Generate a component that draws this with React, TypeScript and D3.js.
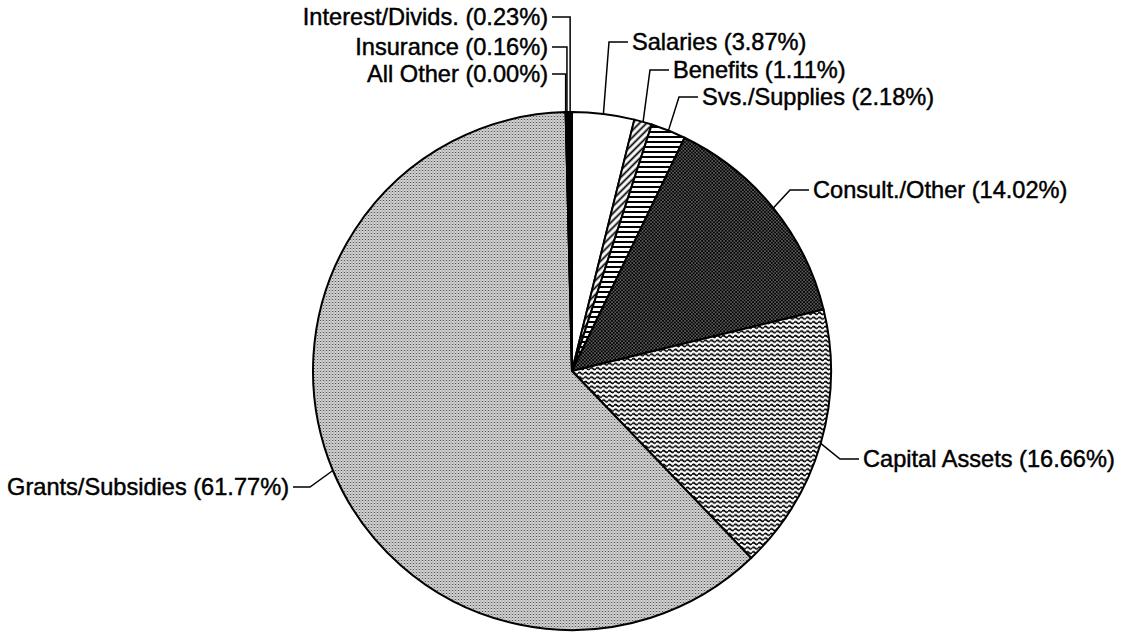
import React from 'react';
import * as d3 from 'd3';

// expense categories, clockwise from 12 o'clock
const categories = [
  'Salaries',
  'Benefits',
  'Svs./Supplies',
  'Consult./Other',
  'Capital Assets',
  'Grants/Subsidies',
  'All Other',
  'Insurance',
  'Interest/Divids.',
];
const shares = [3.87, 1.11, 2.18, 14.02, 16.66, 61.77, 0.0, 0.16, 0.23];
const fills = [
  '#ffffff',
  'url(#diag)',
  'url(#hlines)',
  'url(#dots)',
  'url(#waves)',
  'url(#stipple)',
  '#000000',
  '#000000',
  '#000000',
];

// label placement (text edge x, text middle y, side, straight-up leader)
const labelX = [632, 673, 702, 813, 863, 289, 548, 548, 548];
const labelY = [42, 70, 97, 190, 459, 487, 74, 47, 17];
const labelSide = ['right', 'right', 'right', 'right', 'right', 'left', 'left', 'left', 'left'];
const labelVertical = [false, false, false, false, false, false, true, true, true];

const W = 1122;
const H = 632;
const cx = 572;
const cy = 371;
const radius = 259;

export default function App() {
  const pie = d3
    .pie<number>()
    .sort(null)
    .value((d) => d)
    .startAngle(0)
    .endAngle(2 * Math.PI);
  const arcs = pie(shares);
  const arcGen = d3.arc<d3.PieArcDatum<number>>().innerRadius(0).outerRadius(radius);

  const leaders = arcs.map((a, i) => {
    const mid = (a.startAngle + a.endAngle) / 2;
    const px = cx + radius * Math.sin(mid);
    const py = cy - radius * Math.cos(mid);
    const y = labelY[i];
    const right = labelSide[i] === 'right';
    const tip = right ? labelX[i] - 4 : labelX[i] + 4;
    const elbowX = labelVertical[i] ? px : right ? tip - 19 : tip + 17;
    return d3.line()([
      [px, py],
      [elbowX, y],
      [tip, y],
    ]);
  });

  return (
    <svg
      width={W}
      height={H}
      style={{ position: 'absolute', left: 0, top: 0, background: '#fff' }}
    >
      <defs>
        <pattern id="diag" width="5" height="5" patternUnits="userSpaceOnUse" patternTransform="rotate(-45)">
          <rect width="5" height="5" fill="#fff" />
          <line x1="0" y1="2.5" x2="5" y2="2.5" stroke="#000" strokeWidth="1.8" />
        </pattern>
        <pattern id="hlines" width="6" height="5" patternUnits="userSpaceOnUse">
          <rect width="6" height="5" fill="#fff" />
          <rect y="0" width="6" height="2" fill="#000" />
        </pattern>
        <pattern id="dots" width="3.4" height="3.4" patternUnits="userSpaceOnUse">
          <rect width="3.4" height="3.4" fill="#000" />
          <circle cx="0.85" cy="0.85" r="0.55" fill="#fff" />
          <circle cx="2.55" cy="2.55" r="0.55" fill="#fff" />
        </pattern>
        <pattern id="waves" width="6" height="4.6" patternUnits="userSpaceOnUse">
          <rect width="6" height="4.6" fill="#fff" />
          <path d="M0,2.3 Q1.5,0.5 3,2.3 T6,2.3" fill="none" stroke="#000" strokeWidth="1.7" />
        </pattern>
        <pattern id="stipple" width="3" height="3" patternUnits="userSpaceOnUse">
          <rect width="3" height="3" fill="#d6d6d6" />
          <rect x="0" y="0" width="1" height="1" fill="#555" />
          <rect x="1.5" y="1.5" width="1" height="1" fill="#777" />
          <rect x="1.5" y="0" width="1" height="1" fill="#aaa" />
        </pattern>
      </defs>

      <g transform={`translate(${cx},${cy})`}>
        {arcs.map((a, i) => (
          <path
            key={categories[i]}
            d={arcGen(a) || ''}
            fill={fills[i]}
            stroke="#000"
            strokeWidth={2}
            strokeLinejoin="round"
          />
        ))}
      </g>

      {leaders.map((d, i) => (
        <path key={'l' + i} d={d || ''} fill="none" stroke="#000" strokeWidth={1.5} />
      ))}

      {categories.map((c, i) => (
        <text
          key={'t' + i}
          x={labelX[i]}
          y={labelY[i]}
          dy="0.36em"
          textAnchor={labelSide[i] === 'right' ? 'start' : 'end'}
          fontFamily="'Liberation Sans', Arial, sans-serif"
          fontSize={23.6}
          fill="#000"
          stroke="#000"
          strokeWidth={0.45}
        >
          {`${c} (${shares[i].toFixed(2)}%)`}
        </text>
      ))}
    </svg>
  );
}
